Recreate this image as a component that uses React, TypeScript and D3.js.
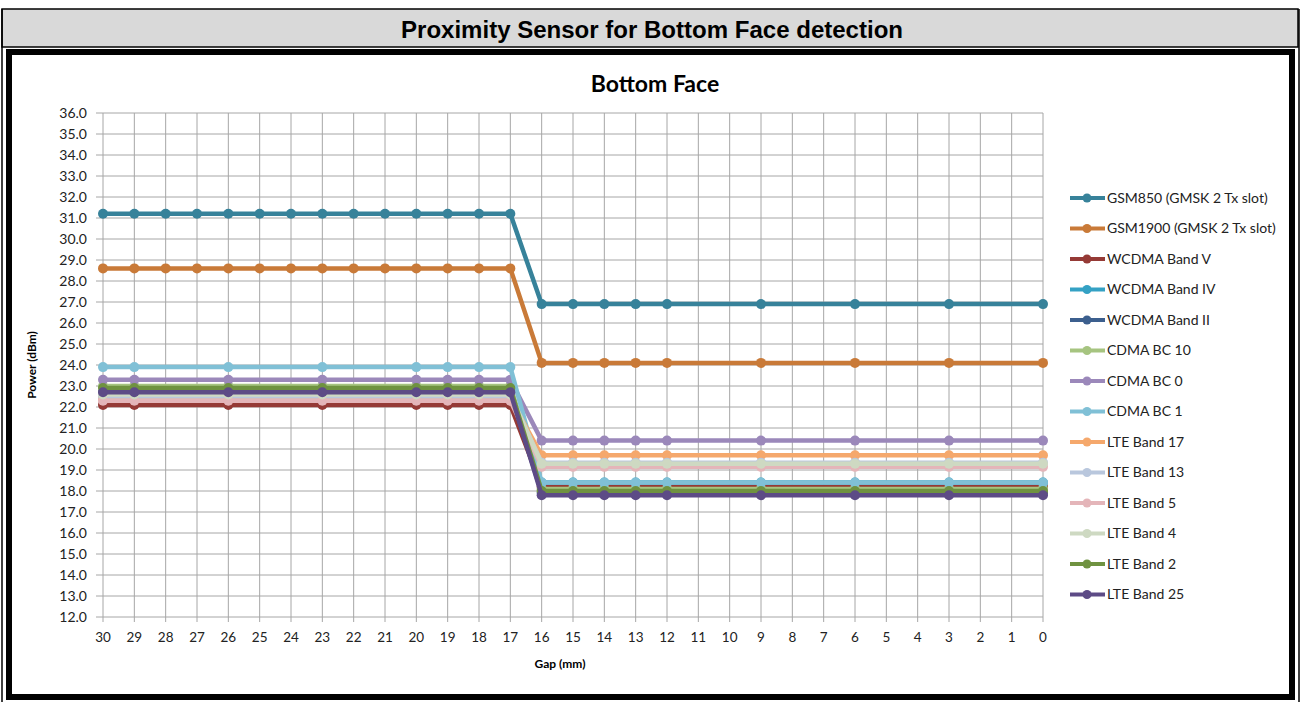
import React, { useEffect, useRef } from 'react';
import * as d3 from 'd3';

// category axis (mm), left to right
const gapLabels = [30, 29, 28, 27, 26, 25, 24, 23, 22, 21, 20, 19, 18, 17, 16, 15, 14, 13, 12, 11, 10, 9, 8, 7, 6, 5, 4, 3, 2, 1, 0];
const yTicks = [12, 13, 14, 15, 16, 17, 18, 19, 20, 21, 22, 23, 24, 25, 26, 27, 28, 29, 30, 31, 32, 33, 34, 35, 36];

// measured gaps
const gsmGaps = [30, 29, 28, 27, 26, 25, 24, 23, 22, 21, 20, 19, 18, 17, 16, 15, 14, 13, 12, 9, 6, 3, 0];
const otherGaps = [30, 29, 26, 23, 20, 19, 18, 17, 16, 15, 14, 13, 12, 9, 6, 3, 0];

const gsm850 = [31.2, 31.2, 31.2, 31.2, 31.2, 31.2, 31.2, 31.2, 31.2, 31.2, 31.2, 31.2, 31.2, 31.2, 26.9, 26.9, 26.9, 26.9, 26.9, 26.9, 26.9, 26.9, 26.9];
const gsm1900 = [28.6, 28.6, 28.6, 28.6, 28.6, 28.6, 28.6, 28.6, 28.6, 28.6, 28.6, 28.6, 28.6, 28.6, 24.1, 24.1, 24.1, 24.1, 24.1, 24.1, 24.1, 24.1, 24.1];
const wcdmaV = [22.1, 22.1, 22.1, 22.1, 22.1, 22.1, 22.1, 22.1, 18.2, 18.2, 18.2, 18.2, 18.2, 18.2, 18.2, 18.2, 18.2];
const wcdmaIV = [22.6, 22.6, 22.6, 22.6, 22.6, 22.6, 22.6, 22.6, 18.4, 18.4, 18.4, 18.4, 18.4, 18.4, 18.4, 18.4, 18.4];
const wcdmaII = [22.7, 22.7, 22.7, 22.7, 22.7, 22.7, 22.7, 22.7, 17.9, 17.9, 17.9, 17.9, 17.9, 17.9, 17.9, 17.9, 17.9];
const cdma10 = [23.0, 23.0, 23.0, 23.0, 23.0, 23.0, 23.0, 23.0, 18.1, 18.1, 18.1, 18.1, 18.1, 18.1, 18.1, 18.1, 18.1];
const cdma0 = [23.3, 23.3, 23.3, 23.3, 23.3, 23.3, 23.3, 23.3, 20.4, 20.4, 20.4, 20.4, 20.4, 20.4, 20.4, 20.4, 20.4];
const cdma1 = [23.9, 23.9, 23.9, 23.9, 23.9, 23.9, 23.9, 23.9, 18.4, 18.4, 18.4, 18.4, 18.4, 18.4, 18.4, 18.4, 18.4];
const lte17 = [22.4, 22.4, 22.4, 22.4, 22.4, 22.4, 22.4, 22.4, 19.7, 19.7, 19.7, 19.7, 19.7, 19.7, 19.7, 19.7, 19.7];
const lte13 = [22.5, 22.5, 22.5, 22.5, 22.5, 22.5, 22.5, 22.5, 19.35, 19.35, 19.35, 19.35, 19.35, 19.35, 19.35, 19.35, 19.35];
const lte5 = [22.3, 22.3, 22.3, 22.3, 22.3, 22.3, 22.3, 22.3, 19.15, 19.15, 19.15, 19.15, 19.15, 19.15, 19.15, 19.15, 19.15];
const lte4 = [22.6, 22.6, 22.6, 22.6, 22.6, 22.6, 22.6, 22.6, 19.3, 19.3, 19.3, 19.3, 19.3, 19.3, 19.3, 19.3, 19.3];
const lte2 = [22.9, 22.9, 22.9, 22.9, 22.9, 22.9, 22.9, 22.9, 18.0, 18.0, 18.0, 18.0, 18.0, 18.0, 18.0, 18.0, 18.0];
const lte25 = [22.7, 22.7, 22.7, 22.7, 22.7, 22.7, 22.7, 22.7, 17.8, 17.8, 17.8, 17.8, 17.8, 17.8, 17.8, 17.8, 17.8];

const seriesNames = [
  'GSM850 (GMSK 2 Tx slot)', 'GSM1900 (GMSK 2 Tx slot)', 'WCDMA Band V', 'WCDMA Band IV', 'WCDMA Band II',
  'CDMA BC 10', 'CDMA BC 0', 'CDMA BC 1', 'LTE Band 17', 'LTE Band 13', 'LTE Band 5', 'LTE Band 4', 'LTE Band 2', 'LTE Band 25',
];
const seriesValues = [gsm850, gsm1900, wcdmaV, wcdmaIV, wcdmaII, cdma10, cdma0, cdma1, lte17, lte13, lte5, lte4, lte2, lte25];
const seriesGaps = [gsmGaps, gsmGaps, otherGaps, otherGaps, otherGaps, otherGaps, otherGaps, otherGaps, otherGaps, otherGaps, otherGaps, otherGaps, otherGaps, otherGaps];
const seriesColors = [
  '#37829a', '#c97a38', '#953a36', '#34a1c4', '#3c5f8e', '#a6c480', '#9b88ba', '#80c0d6',
  '#f5a86c', '#b9c7dd', '#e4b5b9', '#ced9c2', '#6f9240', '#5d4b86',
];

const W = 1301;
const H = 702;
const FONT = 'Lato, "Open Sans", sans-serif';

const App: React.FC = () => {
  const svgRef = useRef<SVGSVGElement>(null);

  useEffect(() => {
    if (!svgRef.current) return;
    const svg = d3.select(svgRef.current);
    svg.selectAll('*').remove();

    // frame: header row + chart box
    svg.append('rect').attr('x', 0).attr('y', 0).attr('width', W).attr('height', H).attr('fill', '#fff');
    svg.append('rect').attr('x', 2).attr('y', 9).attr('width', 1296).attr('height', 38)
      .attr('fill', '#d9d9d9').attr('stroke', '#000').attr('stroke-width', 1.5);
    svg.append('line').attr('x1', 2).attr('x2', 2).attr('y1', 9).attr('y2', 702).attr('stroke', '#000').attr('stroke-width', 1.5);
    svg.append('line').attr('x1', 1299).attr('x2', 1299).attr('y1', 9).attr('y2', 702).attr('stroke', '#000').attr('stroke-width', 1.5);
    svg.append('text').attr('x', 652).attr('y', 38).attr('text-anchor', 'middle')
      .attr('textLength', 502).attr('lengthAdjust', 'spacingAndGlyphs')
      .style('font-family', 'Arial, "Liberation Sans", sans-serif').style('font-weight', 'bold').style('font-size', '23px')
      .text('Proximity Sensor for Bottom Face detection');
    svg.append('rect').attr('x', 9).attr('y', 52).attr('width', 1283).attr('height', 645)
      .attr('fill', '#fff').attr('stroke', '#000').attr('stroke-width', 6);

    const x = d3.scalePoint<number>().domain(gapLabels).range([103, 1043]);
    const y = d3.scaleLinear().domain([12, 36]).range([617, 113]);

    // gridlines
    const grid = svg.append('g');
    grid.selectAll('.hg').data(yTicks).enter().append('line')
      .attr('x1', 96).attr('x2', 1043).attr('y1', d => y(d)).attr('y2', d => y(d))
      .attr('stroke', '#a6a6a6').attr('stroke-width', 1);
    grid.selectAll('.vg').data(gapLabels).enter().append('line')
      .attr('x1', d => x(d)!).attr('x2', d => x(d)!).attr('y1', 113).attr('y2', 622)
      .attr('stroke', '#a6a6a6').attr('stroke-width', 1);

    // axes labels
    svg.append('g').selectAll('text').data(yTicks).enter().append('text')
      .attr('x', 87).attr('y', d => y(d)).attr('dy', '0.35em').attr('text-anchor', 'end')
      .style('font-family', FONT).style('font-size', '14px').style('fill', '#222')
      .text(d => d.toFixed(1));
    svg.append('g').selectAll('text').data(gapLabels).enter().append('text')
      .attr('x', d => x(d)!).attr('y', 642).attr('text-anchor', 'middle')
      .style('font-family', FONT).style('font-size', '13.5px').style('fill', '#222')
      .text(d => String(d));

    svg.append('text').attr('x', 560).attr('y', 668).attr('text-anchor', 'middle')
      .style('font-family', FONT).style('font-weight', 'bold').style('font-size', '12px').text('Gap (mm)');
    svg.append('text').attr('transform', 'translate(36,365) rotate(-90)').attr('text-anchor', 'middle')
      .style('font-family', FONT).style('font-weight', 'bold').style('font-size', '12px').text('Power (dBm)');
    svg.append('text').attr('x', 655).attr('y', 92).attr('text-anchor', 'middle')
      .style('font-family', FONT).style('font-weight', 'bold').style('font-size', '23px').text('Bottom Face');

    // series
    const line = d3.line<[number, number]>().x(d => x(d[0])!).y(d => y(d[1]));
    seriesValues.forEach((vals, i) => {
      const pts: [number, number][] = vals.map((v, j) => [seriesGaps[i][j], v]);
      const g = svg.append('g');
      g.append('path').attr('d', line(pts)).attr('fill', 'none')
        .attr('stroke', seriesColors[i]).attr('stroke-width', 4.5).attr('stroke-linejoin', 'round');
      g.selectAll('circle').data(pts).enter().append('circle')
        .attr('cx', d => x(d[0])!).attr('cy', d => y(d[1])).attr('r', 5)
        .attr('fill', seriesColors[i]);
    });

    // legend
    const legend = svg.append('g');
    seriesNames.forEach((name, i) => {
      const ly = 198 + i * 30.5;
      legend.append('line').attr('x1', 1070).attr('x2', 1105).attr('y1', ly).attr('y2', ly)
        .attr('stroke', seriesColors[i]).attr('stroke-width', 4);
      legend.append('circle').attr('cx', 1087).attr('cy', ly).attr('r', 4.5).attr('fill', seriesColors[i]);
      legend.append('text').attr('x', 1107).attr('y', ly).attr('dy', '0.35em')
        .style('font-family', FONT).style('font-size', '14px').style('fill', '#222').text(name);
    });
  }, []);

  return (
    <div style={{ position: 'fixed', left: 0, top: 0, width: W, height: H }}>
      <svg ref={svgRef} width={W} height={H} viewBox={`0 0 ${W} ${H}`} />
    </div>
  );
};

export default App;
